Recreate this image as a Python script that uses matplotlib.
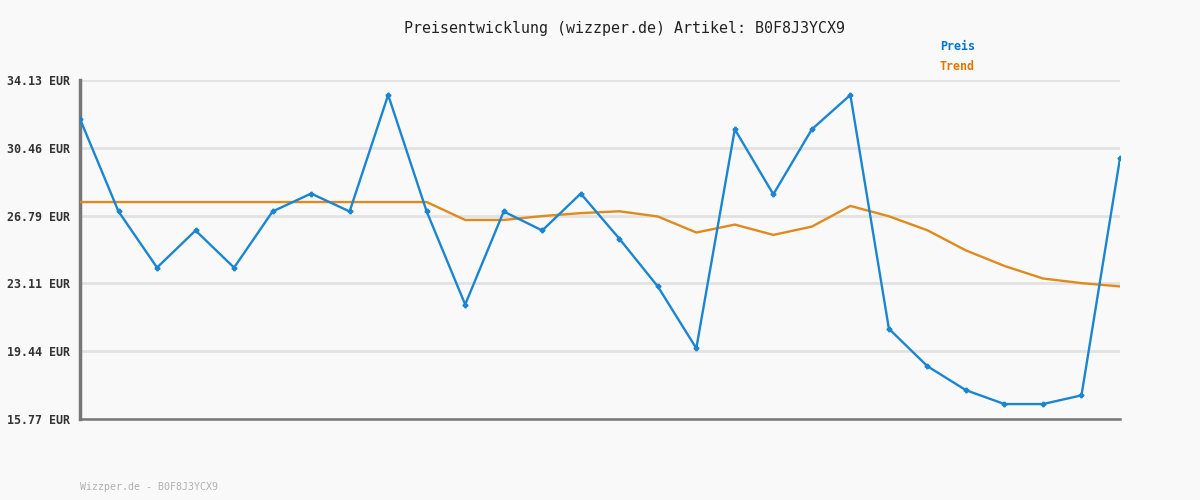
import numpy as np
import matplotlib.pyplot as plt

# Preisverlauf
preis = [32.02, 27.01, 23.97, 25.98, 23.97, 27.01, 27.98, 27.01, 33.32, 27.01,
         21.97, 27.01, 25.98, 27.98, 25.54, 22.95, 19.60, 31.46, 27.94, 31.46,
         33.32, 20.66, 18.63, 17.33, 16.58, 16.58, 17.05, 29.89]
trend = [27.52, 27.52, 27.52, 27.52, 27.52, 27.52, 27.52, 27.52, 27.52, 27.52,
         26.55, 26.55, 26.76, 26.92, 27.02, 26.74, 25.87, 26.30, 25.74, 26.19,
         27.31, 26.75, 25.99, 24.90, 24.06, 23.38, 23.13, 22.95]
y_ticks = [15.77, 19.44, 23.11, 26.79, 30.46, 34.13]
artikel = "B0F8J3YCX9"

blau = '#1a85d0'
orange = '#e08a1e'
bg = '#f9f9f9'
mono = 'DejaVu Sans Mono'

x = np.arange(len(preis))

fig = plt.figure(figsize=(12, 5), dpi=100, facecolor=bg)
ax = fig.add_axes([80/1200, 1 - 419/500, 1040/1200, 339/500], facecolor=bg)

ax.plot(x, trend, color=orange, lw=1.7, zorder=3)
ax.plot(x, preis, color=blau, lw=1.7, marker='P', ms=3.2, mec=blau, zorder=4)

ax.set_xlim(0, len(preis) - 1)
ax.set_ylim(y_ticks[0], y_ticks[-1])
ax.set_yticks(y_ticks)
ax.set_yticklabels([f'{v:.2f} EUR' for v in y_ticks], family=mono,
                   fontweight='bold', fontsize=8.4, color='#333333')
ax.set_xticks([])
ax.tick_params(axis='y', length=0, pad=7)
ax.grid(axis='y', color='#e2e2e2', lw=2, zorder=0)

for s in ['top', 'right']:
    ax.spines[s].set_visible(False)
ax.spines['left'].set_color('#777777')
ax.spines['left'].set_linewidth(2.5)
ax.spines['bottom'].set_color('#777777')
ax.spines['bottom'].set_linewidth(1.8)

fig.text(624/1200, 1 - 28/500, f'Preisentwicklung (wizzper.de) Artikel: {artikel}',
         family=mono, fontsize=10.8, color='#222222', ha='center', va='center')
fig.text(940/1200, 1 - 47/500, 'Preis', family=mono, fontweight='bold',
         fontsize=8.4, color='#0077cc', ha='left', va='center')
fig.text(940/1200, 1 - 67/500, 'Trend', family=mono, fontweight='bold',
         fontsize=8.4, color='#dd7700', ha='left', va='center')
fig.text(80/1200, 1 - 487/500, f'Wizzper.de - {artikel}', family=mono,
         fontsize=7.2, color='#b0b0b0', ha='left', va='center')

fig.savefig('out.png', dpi=100, facecolor=bg)
